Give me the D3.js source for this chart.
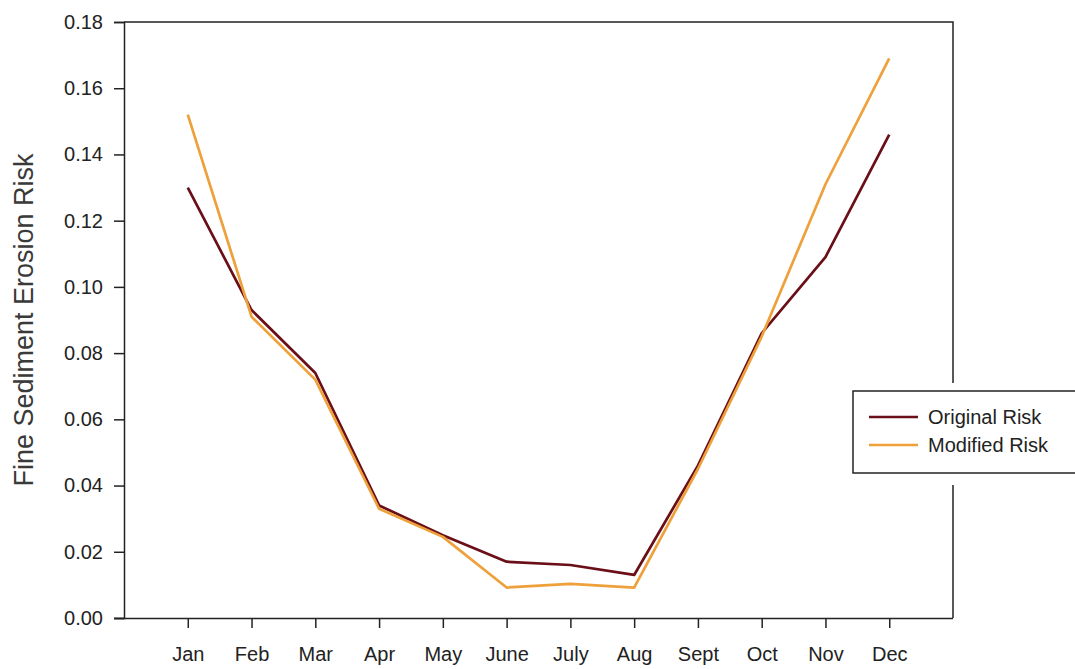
<!DOCTYPE html>
<html><head><meta charset="utf-8">
<script src="https://cdn.jsdelivr.net/npm/d3@7"></script>
<style>body{margin:0;background:#fff;}svg{display:block;font-family:"Liberation Sans",Arial,sans-serif;}</style>
</head><body>
<script>
const months = ["Jan","Feb","Mar","Apr","May","June","July","Aug","Sept","Oct","Nov","Dec"];
const originalRisk = [0.130,0.093,0.074,0.034,0.025,0.017,0.016,0.013,0.046,0.086,0.109,0.146];
const modifiedRisk = [0.152,0.091,0.072,0.033,0.0245,0.0092,0.0103,0.0092,0.045,0.085,0.131,0.169];
const yTicks = [0,0.02,0.04,0.06,0.08,0.10,0.12,0.14,0.16,0.18];
const seriesNames = ["Original Risk","Modified Risk"];
const colors = ["#6a0f18","#eea03a"];

const W=1075,H=669;
const L=124,R=953,T=22,B=618;
const svg=d3.select("body").append("svg").attr("width",W).attr("height",H);
const x=d3.scalePoint().domain(months).range([L,R]).padding(1);
const y=d3.scaleLinear().domain([0,0.18]).range([B,T]);

// frame top & right
svg.append("path").attr("d",`M${L},${T}H${R}V${B}`).attr("fill","none").attr("stroke","#222").attr("stroke-width",1.5);

const ya=svg.append("g").attr("transform",`translate(${L},0)`)
 .call(d3.axisLeft(y).tickValues(yTicks).tickFormat(d3.format(".2f")).tickSize(10).tickPadding(11));
const xa=svg.append("g").attr("transform",`translate(0,${B})`)
 .call(d3.axisBottom(x).tickSize(10).tickPadding(19));
xa.select(".domain").attr("d",`M${L-10},0.5H${R}`);
[ya,xa].forEach(a=>{a.select(".domain").attr("stroke","#222").attr("stroke-width",1.5);
 a.selectAll(".tick line").attr("stroke","#222").attr("stroke-width",1.5);
 a.selectAll("text").attr("font-size",20).attr("fill","#222").attr("font-family","Liberation Sans, Arial, sans-serif");});

svg.append("text").attr("transform",`translate(33,320) rotate(-90)`).attr("text-anchor","middle")
 .attr("font-size",27).attr("fill","#3a3a3a").text("Fine Sediment Erosion Risk");

const line=d3.line().x((d,i)=>x(months[i])).y(d=>y(d));
[originalRisk,modifiedRisk].forEach((s,k)=>{
 svg.append("path").datum(s).attr("d",line).attr("fill","none").attr("stroke",colors[k]).attr("stroke-width",2.7).attr("stroke-linejoin","round");
});

// legend
const lg=svg.append("g");
lg.append("rect").attr("x",846).attr("y",383).attr("width",240).attr("height",102).attr("fill","#fff");
lg.append("rect").attr("x",853).attr("y",391).attr("width",240).attr("height",82).attr("fill","#fff").attr("stroke","#222").attr("stroke-width",1.5);
seriesNames.forEach((n,i)=>{
 const yy=417+i*28;
 lg.append("line").attr("x1",869).attr("x2",918).attr("y1",yy).attr("y2",yy).attr("stroke",colors[i]).attr("stroke-width",2.7);
 lg.append("text").attr("x",928).attr("y",yy).attr("dy","0.35em").attr("font-size",20).attr("fill","#222").text(n);
});
</script>
</body></html>
